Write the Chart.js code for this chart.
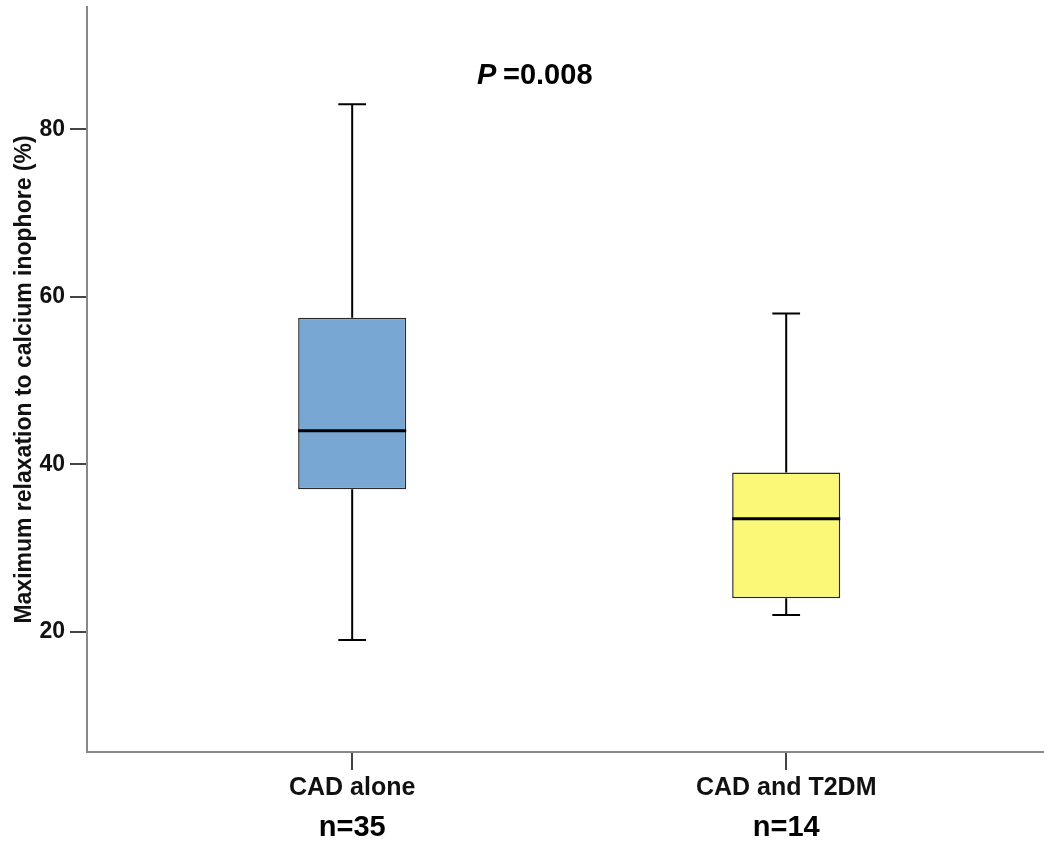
<!DOCTYPE html>
<html>
<head>
<meta charset="utf-8">
<script src="https://cdn.jsdelivr.net/npm/chart.js@4"></script>
<style>
  html, body { margin: 0; padding: 0; background: #fff; }
  #wrap { width: 1044px; height: 847px; }
</style>
</head>
<body>
<div id="wrap"><canvas id="boxChart"></canvas></div>
<script>
// data
const groups = ['CAD alone', 'CAD and T2DM'];
const counts = [35, 14];
const whiskerLow = [19, 22];
const quartile1 = [37, 24];
const medians = [44, 33.5];
const quartile3 = [57.5, 39];
const whiskerHigh = [83, 58];
const yTicks = [20, 40, 60, 80];
const pLabel = '=0.008';

const boxColors = ['#79a7d4', '#fbf877'];
const FONT = '"Liberation Sans", Arial, sans-serif';
const BOX_W = 0.249;   // box width in x units
const CAP_W = 0.064;   // whisker cap width in x units

const boxes = groups.map((g, i) => ({ x: i + 1, y: [quartile1[i], quartile3[i]] }));

const whiskers = [];
groups.forEach((g, i) => {
  const x = i + 1;
  whiskers.push({ x: x, y: quartile3[i] }, { x: x, y: whiskerHigh[i] }, { x: x, y: null });
  whiskers.push({ x: x - CAP_W / 2, y: whiskerHigh[i] }, { x: x + CAP_W / 2, y: whiskerHigh[i] }, { x: x, y: null });
  whiskers.push({ x: x, y: quartile1[i] }, { x: x, y: whiskerLow[i] }, { x: x, y: null });
  whiskers.push({ x: x - CAP_W / 2, y: whiskerLow[i] }, { x: x + CAP_W / 2, y: whiskerLow[i] }, { x: x, y: null });
});

const medianLines = [];
groups.forEach((g, i) => {
  medianLines.push({ x: i + 1 - BOX_W / 2, y: medians[i] }, { x: i + 1 + BOX_W / 2, y: medians[i] }, { x: i + 1, y: null });
});

const textPlugin = {
  id: 'extraText',
  afterDraw(chart) {
    const ctx = chart.ctx;
    const xs = chart.scales.x;
    ctx.save();
    ctx.fillStyle = '#000';
    ctx.textBaseline = 'middle';
    ctx.textAlign = 'center';
    ctx.font = 'bold 29px ' + FONT;
    groups.forEach((g, i) => {
      ctx.fillText('n=' + counts[i], xs.getPixelForValue(i + 1), 828);
    });
    ctx.textAlign = 'left';
    ctx.font = 'italic bold 29px ' + FONT;
    ctx.fillText('P', 477, 76);
    ctx.font = 'bold 29px ' + FONT;
    ctx.fillText(pLabel, 503, 76);
    ctx.restore();
  }
};

new Chart(document.getElementById('boxChart'), {
  data: {
    datasets: [
      {
        type: 'line',
        data: whiskers,
        borderColor: '#000',
        borderWidth: 2,
        pointRadius: 0,
        spanGaps: false,
        order: 3
      },
      {
        type: 'bar',
        data: boxes,
        backgroundColor: boxColors,
        borderColor: '#2a2a2a',
        borderWidth: 1.5,
        borderSkipped: false,
        categoryPercentage: 1,
        barPercentage: BOX_W,
        order: 2
      },
      {
        type: 'line',
        data: medianLines,
        borderColor: '#000',
        borderWidth: 3,
        pointRadius: 0,
        spanGaps: false,
        order: 1
      }
    ]
  },
  options: {
    responsive: true,
    maintainAspectRatio: false,
    animation: false,
    layout: { padding: { top: 7, right: 0, left: 0, bottom: 0 } },
    plugins: {
      legend: { display: false },
      tooltip: { enabled: false }
    },
    scales: {
      x: {
        type: 'linear',
        offset: false,
        min: 0.389,
        max: 2.594,
        afterBuildTicks: (s) => { s.ticks = groups.map((g, i) => ({ value: i + 1 })); },
        afterFit: (s) => { s.height = 95; s.paddingLeft = 0; s.paddingRight = 0; },
        border: { color: '#888', width: 2 },
        grid: { offset: false, drawOnChartArea: false, drawTicks: true, tickLength: 18, color: '#444', lineWidth: 2 },
        ticks: {
          padding: 3,
          color: '#111',
          maxRotation: 0,
          autoSkip: false,
          font: { family: FONT, size: 25, weight: 'bold' },
          callback: (v) => groups[Math.round(v) - 1]
        }
      },
      y: {
        min: 5.63,
        max: 94.6,
        afterBuildTicks: (s) => { s.ticks = yTicks.map(v => ({ value: v })); },
        afterFit: (s) => { s.width = 87; s.paddingTop = 0; s.paddingBottom = 0; },
        border: { color: '#888', width: 2 },
        grid: { drawOnChartArea: false, drawTicks: true, tickLength: 17, color: '#444', lineWidth: 2 },
        ticks: {
          padding: 5,
          color: '#111',
          font: { family: FONT, size: 23, weight: 'bold' }
        },
        title: {
          display: true,
          text: 'Maximum relaxation to calcium inophore (%)',
          color: '#111',
          padding: { top: 11, bottom: 0 },
          font: { family: FONT, size: 23, weight: 'bold' }
        }
      }
    }
  },
  plugins: [textPlugin]
});
</script>
</body>
</html>
